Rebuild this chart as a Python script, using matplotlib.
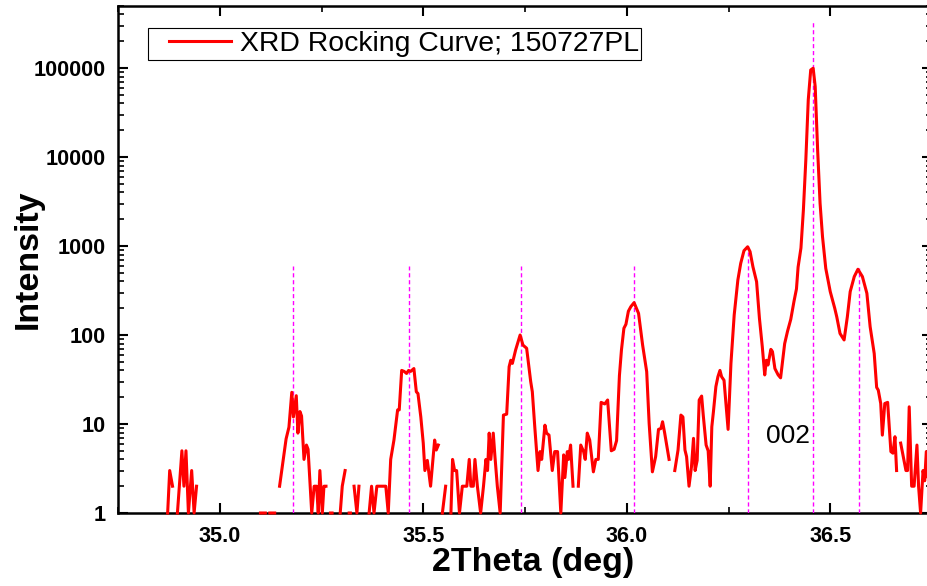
import numpy as np
import matplotlib
matplotlib.use("Agg")
import matplotlib.pyplot as plt
from matplotlib.ticker import LogLocator, FuncFormatter, MultipleLocator, NullFormatter
from matplotlib.legend_handler import HandlerLine2D

# scan data (0 = no counts -> gap on log scale)
two_theta = [
    34.866, 34.872, 34.877, 34.884, 34.889, 34.896, 34.907, 34.912, 34.917, 34.923,
    34.931, 34.937, 34.943, 34.948, 35.095, 35.100, 35.112, 35.117, 35.123, 35.135,
    35.141, 35.147, 35.158, 35.163, 35.170, 35.177, 35.181, 35.188, 35.192, 35.197,
    35.201, 35.207, 35.213, 35.217, 35.226, 35.232, 35.238, 35.242, 35.246, 35.252,
    35.256, 35.261, 35.266, 35.272, 35.276, 35.281, 35.296, 35.301, 35.308, 35.313,
    35.318, 35.321, 35.325, 35.330, 35.337, 35.342, 35.347, 35.362, 35.367, 35.373,
    35.379, 35.386, 35.397, 35.408, 35.414, 35.420, 35.428, 35.437, 35.441, 35.447,
    35.453, 35.459, 35.464, 35.469, 35.477, 35.483, 35.487, 35.494, 35.500, 35.504,
    35.510, 35.518, 35.528, 35.532, 35.537, 35.541, 35.547, 35.555, 35.560, 35.568,
    35.572, 35.577, 35.582, 35.589, 35.596, 35.602, 35.607, 35.613, 35.617, 35.623,
    35.627, 35.633, 35.641, 35.648, 35.654, 35.658, 35.662, 35.666, 35.672, 35.676,
    35.682, 35.689, 35.697, 35.705, 35.711, 35.715, 35.719, 35.727, 35.738, 35.745,
    35.754, 35.764, 35.768, 35.774, 35.782, 35.787, 35.791, 35.799, 35.803, 35.809,
    35.817, 35.823, 35.830, 35.838, 35.845, 35.848, 35.854, 35.857, 35.862, 35.868,
    35.873, 35.881, 35.887, 35.894, 35.898, 35.903, 35.909, 35.918, 35.924, 35.930,
    35.937, 35.946, 35.953, 35.962, 35.969, 35.975, 35.982, 35.987, 35.993, 35.998,
    36.004, 36.010, 36.018, 36.029, 36.039, 36.049, 36.055, 36.063, 36.071, 36.078,
    36.084, 36.088, 36.093, 36.104, 36.109, 36.118, 36.126, 36.133, 36.138, 36.143,
    36.147, 36.153, 36.159, 36.164, 36.168, 36.173, 36.178, 36.184, 36.188, 36.195,
    36.200, 36.205, 36.209, 36.213, 36.219, 36.224, 36.229, 36.233, 36.239, 36.249,
    36.256, 36.264, 36.273, 36.280, 36.288, 36.297, 36.303, 36.310, 36.319, 36.326,
    36.333, 36.339, 36.343, 36.347, 36.354, 36.358, 36.364, 36.372, 36.378, 36.388,
    36.395, 36.403, 36.411, 36.417, 36.421, 36.428, 36.434, 36.440, 36.446, 36.452,
    36.458, 36.463, 36.469, 36.475, 36.481, 36.489, 36.500, 36.511, 36.516, 36.524,
    36.534, 36.542, 36.549, 36.559, 36.568, 36.579, 36.590, 36.598, 36.608, 36.614,
    36.618, 36.624, 36.628, 36.634, 36.641, 36.649, 36.654, 36.659, 36.663, 36.668,
    36.673, 36.686, 36.690, 36.694, 36.700, 36.706, 36.713, 36.717, 36.722, 36.728,
    36.732, 36.736, 36.740, 36.745,
]
intensity = [
    0, 1, 3, 2, 0, 1, 5, 2, 5, 1,
    3, 1, 2, 0, 0, 1, 1, 0, 1, 1,
    0, 2, 4.7, 6.8, 9.2, 22.7, 12, 20.8, 7.9, 13.8,
    12.3, 4, 5.8, 5.2, 1, 2, 2, 1, 3, 1,
    2, 2, 0, 1, 1, 0, 1, 2, 3, 0,
    1, 1, 0, 2, 1, 2, 0, 0, 1, 2,
    1, 2, 2, 2, 1, 4, 6.6, 14.4, 14.4, 40,
    39, 37, 40, 39, 42, 23, 22, 12, 6.1, 3,
    3.9, 2, 6.6, 5.1, 5.8, 0, 1, 2, 0, 1,
    4, 3, 3, 1, 2, 2, 2, 4, 2, 2,
    4, 2, 1, 2, 4, 3, 7.9, 4, 7.9, 4.4,
    2, 1, 12.6, 12.9, 44, 52, 48, 68, 100, 77,
    71, 30, 23, 9.3, 3, 4.9, 4, 9.7, 7.9, 7.5,
    3, 4.9, 4.9, 1, 4.5, 2.5, 4.9, 4, 5.8, 2,
    0, 2, 5.8, 4.9, 4, 7.9, 6.6, 2.9, 4, 4,
    17.5, 16.8, 18.6, 5, 5.2, 6.5, 35, 68, 119, 132,
    185, 208, 231, 175, 77, 38.7, 10.2, 2.9, 4.3, 8.7,
    8.9, 10.6, 8, 4, 0, 3, 5.1, 12.6, 12, 5.1,
    4.3, 2, 3.3, 6.9, 3, 3.9, 18.6, 20.6, 12.5, 5.8,
    5, 2, 9.3, 13.8, 26.3, 34, 40, 34, 31, 8.7,
    48, 168, 415, 638, 885, 980, 864, 585, 397, 154,
    74, 35.6, 52, 46, 69, 65, 42, 35.6, 33, 80,
    110, 150, 240, 330, 580, 950, 2540, 9300, 44000, 95000,
    99500, 62000, 12000, 3020, 1270, 560, 307, 200, 160, 104,
    88, 160, 307, 453, 548, 453, 294, 124, 62, 25.8,
    24, 17, 7.5, 17, 17.5, 4.9, 4.7, 7.2, 3, 0,
    6.1, 3, 3, 15.6, 2, 2, 5.8, 2, 1, 3,
    2.3, 4.9, 2.5, 3,
]

# fitted satellite / peak positions (dotted guides) and their heights
guide_pos = [35.179, 35.464, 35.740, 36.017, 36.297, 36.457, 36.570]
guide_top = [600, 600, 600, 600, 1000, 330000, 560]

legend_label = "XRD Rocking Curve; 150727PL"
peak_label = "002"
peak_label_pos = (36.397, 6.1)

plt.rcParams["font.family"] = ["Liberation Sans", "DejaVu Sans"]
plt.rcParams["font.weight"] = "bold"

fig = plt.figure(figsize=(9.27, 5.86), dpi=100)
ax = fig.add_axes([118 / 927, 73 / 586, 814 / 927, 507.2 / 586])

y = np.array(intensity, dtype=float)
y[y <= 0] = np.nan
line, = ax.plot(two_theta, y, color="#ff0000", lw=2.2, clip_on=False,
                zorder=3, label=legend_label)

ax.vlines(guide_pos, 1, guide_top, colors="#ff00ff", linewidth=1.0,
          linestyles=(0, (3, 2)), zorder=2.6)

ax.text(peak_label_pos[0], peak_label_pos[1], peak_label, fontsize=19,
        fontweight="normal", ha="center", va="baseline")

ax.set_yscale("log")
ax.set_xlim(34.75, 36.75)
ax.set_ylim(1, 5e5)

ax.xaxis.set_major_locator(MultipleLocator(0.5))
ax.xaxis.set_minor_locator(MultipleLocator(0.25))
ax.xaxis.set_major_formatter(FuncFormatter(lambda v, p: f"{v:.1f}"))
ax.yaxis.set_major_locator(LogLocator(base=10, numticks=10))
ax.yaxis.set_minor_locator(LogLocator(base=10, subs=np.arange(2, 10), numticks=20))
ax.yaxis.set_major_formatter(FuncFormatter(lambda v, p: f"{v:.0f}"))
ax.yaxis.set_minor_formatter(NullFormatter())

ax.tick_params(which="major", direction="in", length=7, width=1.5,
               top=True, right=True, labelsize=15.6)
ax.tick_params(axis="x", which="major", pad=9.5)
ax.tick_params(axis="y", which="major", pad=8.7)
ax.tick_params(which="minor", direction="in", length=4, width=1.2,
               top=True, right=True)
for s in ax.spines.values():
    s.set_linewidth(1.8)

ax.set_xlabel("2Theta (deg)", fontsize=24.5, fontweight="bold")
ax.set_ylabel("Intensity", fontsize=24.5, fontweight="bold")
ax.xaxis.set_label_coords(0.51, -0.067)
ax.yaxis.set_label_coords(-0.091, 0.5)

leg = ax.legend(handles=[line], loc="upper left",
                bbox_to_anchor=(30 / 814, 485 / 507.2), borderaxespad=0,
                prop={"size": 20.4, "weight": "normal"}, fancybox=False,
                edgecolor="black", framealpha=1, borderpad=0.1,
                handlelength=2.84, handletextpad=0.29,
                handler_map={line: HandlerLine2D(xpad=0.65)})
leg.get_frame().set_linewidth(0.8)

fig.savefig("out.png", dpi=100)
